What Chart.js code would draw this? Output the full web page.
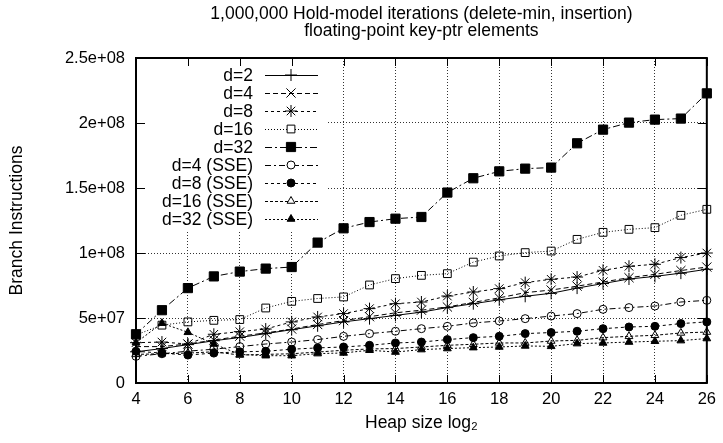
<!DOCTYPE html>
<html>
<head>
<meta charset="utf-8">
<script src="https://cdn.jsdelivr.net/npm/chart.js@4.4.1/dist/chart.umd.min.js"></script>
<style>
  html, body { margin: 0; padding: 0; background: #fff; }
  #wrap { width: 723px; height: 443px; }
</style>
</head>
<body>
<div id="wrap"><canvas id="chart" width="723" height="443"></canvas></div>
<script>
// heap size (log2) on x, branch instructions in millions on y
const heapSizes = [4, 5, 6, 7, 8, 9, 10, 11, 12, 13, 14, 15, 16, 17, 18, 19, 20, 21, 22, 23, 24, 25, 26];
const xTicks = [4, 6, 8, 10, 12, 14, 16, 18, 20, 22, 24, 26];
const yTicks = [0, 50, 100, 150, 200, 250];
const yTickLabels = ['0', '5e+07', '1e+08', '1.5e+08', '2e+08', '2.5e+08'];

const d2 = [24, 26.5, 29.5, 32.5, 35, 38, 41, 44, 47, 49.5, 52, 54.5, 58, 61, 64, 66.7, 69, 73, 76.5, 80, 82, 84.5, 87.5];
const d4 = [28, 28, 30, 33, 36, 38.5, 41.5, 45, 48, 51, 54, 56, 58.5, 62, 65.5, 69.5, 71.5, 74.5, 77.7, 81, 83.6, 86.5, 89.2];
const d8 = [31, 31.5, 30, 37.5, 39.5, 41.5, 47, 50.8, 53.4, 57.2, 61, 62.3, 66.9, 70, 72.6, 77.2, 79.8, 81.5, 86.7, 89.8, 91.3, 96.5, 100];
const d16 = [37, 44.5, 47, 48.2, 48.8, 57.7, 62.8, 65, 66.2, 75.4, 80.3, 82.8, 84.1, 93, 97.7, 100.3, 101.5, 110.5, 115.9, 118.2, 119.5, 129, 133.6];
const d32 = [37.5, 56, 73, 82, 85.7, 88, 89.2, 108, 119, 123.8, 126.4, 127.7, 146.5, 157.5, 162.8, 164.9, 165.7, 184.4, 194.9, 200.3, 202.6, 203.4, 222.8];
const d4sse = [20.5, 22.5, 24.5, 26, 28, 30, 31.5, 33.4, 35.9, 38, 39.8, 41.8, 43.6, 46.2, 47.7, 49.5, 51.5, 53.4, 56.7, 58, 59.2, 62.3, 63.6];
const d8sse = [24.4, 23, 21.5, 23, 24, 24.4, 26, 27, 27.7, 29, 30.8, 31.5, 33.4, 34.9, 35.9, 38, 38.8, 39.8, 41.8, 43.1, 43.6, 45.7, 47];
const d16sse = [22, 22.5, 23, 24, 21.5, 22, 22.5, 23.8, 25.2, 26.2, 26.5, 27.7, 29, 29.8, 30.8, 30.8, 32.3, 32.8, 34.9, 35.9, 36.7, 38.5, 39.2];
const d32sse = [31, 46, 39, 30, 22, 21, 21, 22.6, 23.1, 25.2, 23.8, 25.7, 26.5, 27.2, 27.7, 28.5, 28.2, 30.3, 30.8, 31.5, 32.1, 32.6, 34.2];

const series = [
  { label: 'd=2', data: d2, dash: [], point: 'cross', r: 6, filled: false },
  { label: 'd=4', data: d4, dash: [5, 3], point: 'crossRot', r: 6.5, filled: false },
  { label: 'd=8', data: d8, dash: [3, 3], point: 'star', r: 6, filled: false },
  { label: 'd=16', data: d16, dash: [1, 2], point: 'rect', r: 5.5, filled: false },
  { label: 'd=32', data: d32, dash: [7, 3, 2, 3], point: 'rect', r: 6.5, filled: true },
  { label: 'd=4 (SSE)', data: d4sse, dash: [6, 3, 2, 3], point: 'circle', r: 4, filled: false },
  { label: 'd=8 (SSE)', data: d8sse, dash: [3, 3], point: 'circle', r: 4, filled: true },
  { label: 'd=16 (SSE)', data: d16sse, dash: [3, 2], point: 'triangle', r: 4.5, filled: false },
  { label: 'd=32 (SSE)', data: d32sse, dash: [2, 2], point: 'triangle', r: 4.5, filled: true }
];

const FONT = '"Liberation Sans", Arial, Helvetica, sans-serif';
const TEXT_SIZE = 17.5;
const TICK_SIZE = 16.5;
Chart.defaults.font.family = FONT;
Chart.defaults.font.size = TICK_SIZE;
Chart.defaults.color = '#000';

// white key box, plot frame and inward tick marks, then the key itself
const framePlugin = {
  id: 'frame',
  beforeDatasetsDraw(chart) {
    const { ctx, chartArea: a, scales } = chart;
    ctx.save();
    ctx.fillStyle = '#fff';
    ctx.fillRect(a.left + 1, a.top + 1, 326 - a.left, 230 - a.top);
    ctx.strokeStyle = '#000';
    ctx.lineWidth = 2;
    ctx.strokeRect(a.left, a.top, a.right - a.left, a.bottom - a.top);
    ctx.lineWidth = 1;
    ctx.beginPath();
    xTicks.forEach((v) => {
      const x = Math.round(scales.x.getPixelForValue(v)) + 0.5;
      ctx.moveTo(x, a.bottom); ctx.lineTo(x, a.bottom - 8);
      ctx.moveTo(x, a.top); ctx.lineTo(x, a.top + 8);
    });
    yTicks.forEach((v) => {
      const y = Math.round(scales.y.getPixelForValue(v)) + 0.5;
      ctx.moveTo(a.left, y); ctx.lineTo(a.left + 9, y);
      ctx.moveTo(a.right, y); ctx.lineTo(a.right - 9, y);
    });
    ctx.stroke();
    ctx.restore();
  },
  afterDatasetsDraw(chart) {
    const { ctx } = chart;
    ctx.save();
    ctx.font = TEXT_SIZE + 'px ' + FONT;
    ctx.textAlign = 'right';
    ctx.textBaseline = 'middle';
    series.forEach((s, i) => {
      const y = 75 + i * 18;
      ctx.fillStyle = '#000';
      ctx.fillText(s.label, 253, y + 1);
      ctx.strokeStyle = '#000';
      ctx.lineWidth = 1;
      ctx.setLineDash(s.dash);
      ctx.beginPath();
      ctx.moveTo(265, y + 0.5);
      ctx.lineTo(318, y + 0.5);
      ctx.stroke();
      ctx.setLineDash([]);
      ctx.fillStyle = s.filled ? '#000' : '#fff';
      if (Chart.helpers && Chart.helpers.drawPoint) {
        Chart.helpers.drawPoint(ctx, { pointStyle: s.point, radius: s.r, borderWidth: 1, rotation: 0 }, 291, y);
      }
    });
    ctx.restore();
  }
};

new Chart(document.getElementById('chart'), {
  type: 'line',
  data: {
    datasets: series.map((s) => ({
      label: s.label,
      data: heapSizes.map((x, i) => ({ x, y: s.data[i] })),
      borderColor: '#000',
      borderWidth: 1,
      borderDash: s.dash,
      pointStyle: s.point,
      pointRadius: s.r,
      pointBorderWidth: 1,
      pointBorderColor: '#000',
      pointBackgroundColor: s.filled ? '#000' : 'rgba(0,0,0,0)',
      tension: 0,
      clip: false
    }))
  },
  options: {
    responsive: false,
    animation: false,
    devicePixelRatio: 1,
    layout: { padding: { left: 0, right: 11, top: 0, bottom: 0 } },
    plugins: {
      legend: { display: false },
      tooltip: { enabled: false },
      title: {
        display: true,
        fullSize: false,
        text: ['1,000,000 Hold-model iterations (delete-min, insertion)', 'floating-point key-ptr elements'],
        font: { size: TEXT_SIZE, weight: 'normal', lineHeight: 1.0 },
        padding: { top: 5, bottom: 18 }
      }
    },
    scales: {
      x: {
        type: 'linear',
        min: 4,
        max: 26,
        afterBuildTicks: (scale) => { scale.ticks = xTicks.map((v) => ({ value: v })); },
        afterFit: (scale) => { scale.height = 60; },
        ticks: { autoSkip: false, maxRotation: 0, padding: 7, font: { size: TICK_SIZE } },
        grid: { color: '#333', lineWidth: 1, drawTicks: false },
        border: { display: false, dash: [1, 2] },
        title: { display: true, text: 'Heap size log₂', font: { size: TEXT_SIZE }, padding: { top: 0, bottom: 9 } }
      },
      y: {
        min: 0,
        max: 250,
        afterBuildTicks: (scale) => { scale.ticks = yTicks.map((v) => ({ value: v })); },
        afterFit: (scale) => { scale.width = 136; },
        ticks: {
          padding: 11,
          font: { size: TICK_SIZE },
          callback: (v) => yTickLabels[yTicks.indexOf(v)] ?? ''
        },
        grid: { color: '#333', lineWidth: 1, drawTicks: false },
        border: { display: false, dash: [1, 2] },
        title: { display: true, text: 'Branch Instructions', font: { size: TEXT_SIZE }, padding: { top: 7, bottom: 0 } }
      }
    }
  },
  plugins: [framePlugin]
});
</script>
</body>
</html>
